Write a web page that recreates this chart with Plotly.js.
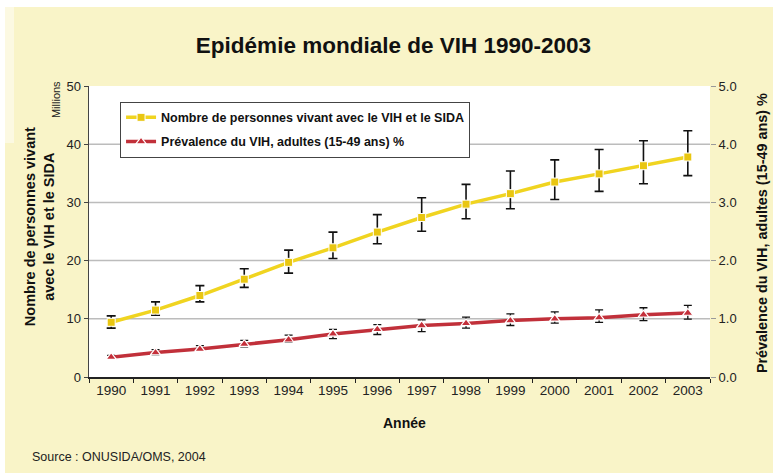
<!DOCTYPE html>
<html>
<head>
<meta charset="utf-8">
<script src="https://cdn.plot.ly/plotly-3.0.1.min.js"></script>
<style>
  html, body { margin: 0; padding: 0; background: #ffffff; }
  #wrap { position: relative; width: 773px; height: 473px; overflow: hidden; }
  #bg { position: absolute; left: 5px; top: 7px; width: 768px; height: 466px; background: #f9f4c8; }
  #patch { position: absolute; left: 5px; top: 7px; width: 9px; height: 136px; background: #fcf9e2; }
  #chart { position: absolute; left: 0; top: 0; width: 773px; height: 473px; }
</style>
</head>
<body>
<div id="wrap">
  <div id="bg"></div>
  <div id="patch"></div>
  <div id="chart"></div>
</div>
<script>
// Years on the x axis
const years = ['1990','1991','1992','1993','1994','1995','1996','1997','1998','1999','2000','2001','2002','2003'];

// People living with HIV (millions) and the estimate range
const vivants     = [9.4, 11.5, 14.0, 16.8, 19.7, 22.2, 24.9, 27.4, 29.7, 31.5, 33.5, 34.9, 36.3, 37.8];
const vivantsHaut = [10.5, 12.9, 15.7, 18.6, 21.8, 24.9, 27.9, 30.8, 33.1, 35.4, 37.3, 39.1, 40.6, 42.3];
const vivantsBas  = [8.4, 10.6, 12.9, 15.4, 17.85, 20.35, 22.9, 25.05, 27.2, 28.9, 30.5, 31.9, 33.2, 34.6];

// Adult HIV prevalence (15-49), % and the estimate range
const prevalence     = [0.34, 0.42, 0.48, 0.565, 0.64, 0.74, 0.82, 0.885, 0.92, 0.97, 1.00, 1.02, 1.07, 1.10];
const prevalenceHaut = [0.37, 0.47, 0.54, 0.63, 0.72, 0.82, 0.90, 0.98, 1.03, 1.085, 1.12, 1.155, 1.19, 1.23];
const prevalenceBas  = [0.31, 0.38, 0.44, 0.52, 0.60, 0.66, 0.73, 0.78, 0.84, 0.885, 0.925, 0.94, 0.97, 0.995];

const gridVals = [10, 20, 30, 40];

const diff = (a, b) => a.map((v, i) => Math.abs(v - b[i]));

const traceVivants = {
  x: years,
  y: vivants,
  type: 'scatter',
  mode: 'lines+markers',
  name: 'Nombre de personnes vivant avec le VIH et le SIDA',
  legendgroup: 'a',
  line: { color: '#f0d420', width: 3.5 },
  marker: { symbol: 'square', size: 8, color: '#e9c611', line: { color: '#ffffff', width: 1 } },
  error_y: {
    type: 'data', symmetric: false,
    array: diff(vivantsHaut, vivants),
    arrayminus: diff(vivants, vivantsBas),
    color: '#111111', thickness: 1.6, width: 4.5
  },
  cliponaxis: false
};

const tracePrev = {
  x: years,
  y: prevalence,
  yaxis: 'y2',
  type: 'scatter',
  mode: 'lines+markers',
  name: 'Prévalence du VIH, adultes (15-49 ans) %',
  legendgroup: 'b',
  line: { color: '#c1303a', width: 3.5 },
  marker: { symbol: 'triangle-up', size: 9, color: '#c42f3a', line: { color: '#ffffff', width: 1.2 } },
  error_y: {
    type: 'data', symmetric: false,
    array: diff(prevalenceHaut, prevalence),
    arrayminus: diff(prevalence, prevalenceBas),
    color: '#111111', thickness: 1.3, width: 4
  },
  cliponaxis: false
};

const FAM = 'Liberation Sans, Arial, sans-serif';
const tickFont = { family: FAM, size: 13, color: '#222222' };
const boldFont = (size) => ({ family: FAM, size: size, color: '#111111', weight: 'bold' });

const layout = {
  width: 773,
  height: 473,
  paper_bgcolor: 'rgba(0,0,0,0)',
  plot_bgcolor: '#ffffff',
  margin: { l: 89, r: 63, t: 86, b: 96 },
  showlegend: true,
  title: {
    text: '<b>Epidémie mondiale de VIH 1990-2003</b>',
    font: { family: FAM, size: 22.5, color: '#111111' },
    x: 0.509, xanchor: 'center', xref: 'container',
    y: 0.905, yanchor: 'middle', yref: 'container'
  },
  xaxis: {
    type: 'category',
    tickson: 'boundaries',
    ticks: 'outside', ticklen: 4, tickcolor: '#222222', tickwidth: 1,
    showline: true, linecolor: '#222222', linewidth: 1.5,
    showgrid: false,
    tickfont: { family: FAM, size: 13.5, color: '#222222' },
    range: [-0.5, 13.5]
  },
  yaxis: {
    range: [0, 50],
    tickvals: [0, 10, 20, 30, 40, 50],
    ticks: 'outside', ticklen: 4, tickcolor: '#444444',
    showline: true, linecolor: '#444444', linewidth: 1.5,
    showgrid: false, zeroline: false,
    tickfont: tickFont
  },
  yaxis2: {
    overlaying: 'y',
    side: 'right',
    range: [0, 5],
    tickvals: [0, 1, 2, 3, 4, 5],
    tickformat: '.1f',
    ticks: 'outside', ticklen: 5, tickcolor: '#999999',
    showline: false, showgrid: false, zeroline: false,
    tickfont: tickFont
  },
  legend: {
    x: 0.05, xanchor: 'left',
    y: 0.946, yanchor: 'top',
    bgcolor: '#ffffff',
    bordercolor: '#444444', borderwidth: 1,
    font: boldFont(12.5),
    traceorder: 'grouped',
    tracegroupgap: 5
  },
  shapes: gridVals.map(v => ({
    type: 'line', xref: 'paper', yref: 'y', layer: 'below',
    x0: 0, x1: 1, y0: v, y1: v,
    line: { color: '#bcbcbc', width: 1.5 }
  })),
  annotations: [
    {
      text: 'Nombre de personnes vivant<br>avec le VIH et le SIDA',
      xref: 'paper', yref: 'paper', x: -0.0805, y: 0.515,
      xanchor: 'center', yanchor: 'middle', textangle: -90,
      showarrow: false, font: boldFont(14.5)
    },
    {
      text: 'Millions',
      xref: 'paper', yref: 'paper', x: -0.053, y: 0.952,
      xanchor: 'center', yanchor: 'middle', textangle: -90,
      showarrow: false, font: { family: FAM, size: 11, color: '#222222' }
    },
    {
      text: 'Prévalence du VIH, adultes (15-49 ans) %',
      xref: 'paper', yref: 'paper', x: 1.084, y: 0.495,
      xanchor: 'center', yanchor: 'middle', textangle: -90,
      showarrow: false, font: boldFont(14.4)
    },
    {
      text: 'Année',
      xref: 'paper', yref: 'paper', x: 0.508, y: -0.158,
      xanchor: 'center', yanchor: 'middle',
      showarrow: false, font: boldFont(14)
    },
    {
      text: 'Source : ONUSIDA/OMS, 2004',
      xref: 'paper', yref: 'paper', x: -0.095, y: -0.275,
      xanchor: 'left', yanchor: 'middle',
      showarrow: false, font: { family: FAM, size: 12.5, color: '#222222' }
    }
  ]
};

Plotly.newPlot('chart', [traceVivants, tracePrev], layout, { displayModeBar: false, staticPlot: true });
</script>
</body>
</html>
